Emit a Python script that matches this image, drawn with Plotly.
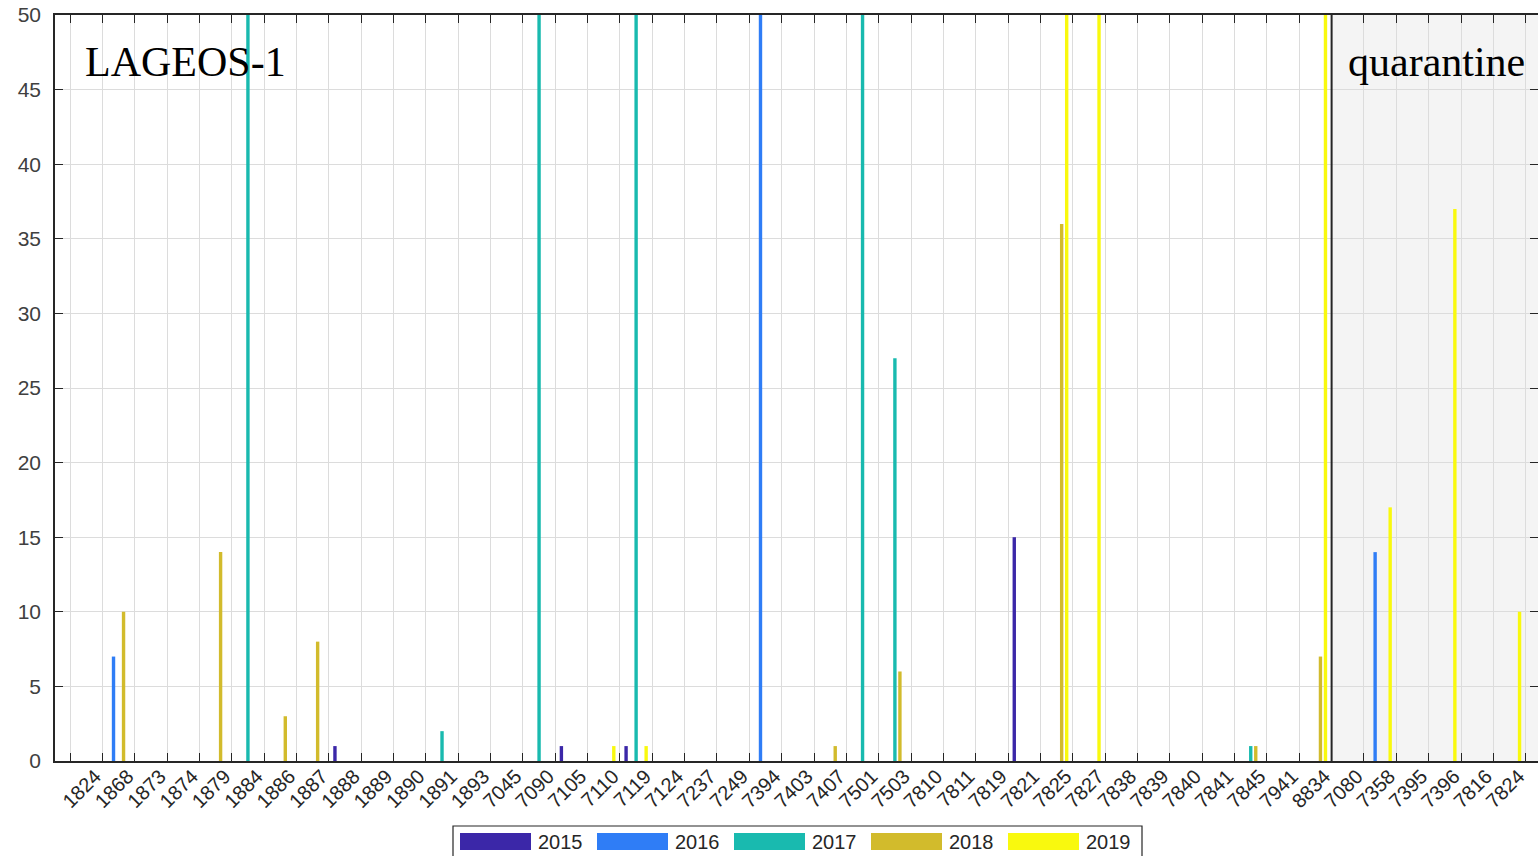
import plotly.graph_objects as go

# ---------------- data ----------------
main_stations = ["1824", "1868", "1873", "1874", "1879", "1884", "1886", "1887", "1888", "1889",
                 "1890", "1891", "1893", "7045", "7090", "7105", "7110", "7119", "7124", "7237",
                 "7249", "7394", "7403", "7407", "7501", "7503", "7810", "7811", "7819", "7821",
                 "7825", "7827", "7838", "7839", "7840", "7841", "7845", "7941", "8834"]
quarantine_stations = ["7080", "7358", "7395", "7396", "7816", "7824"]
stations = main_stations + quarantine_stations

years = ["2015", "2016", "2017", "2018", "2019"]

# counts per station (values above 50 are off the chart; estimated)
v2015 = [0, 0, 0, 0, 0, 0, 0, 0, 1, 0, 0, 0, 0, 0, 0, 1, 0, 1, 0, 0,
         0, 0, 0, 0, 0, 0, 0, 0, 0, 15, 0, 0, 0, 0, 0, 0, 0, 0, 0,
         0, 0, 0, 0, 0, 0]
v2016 = [0, 7, 0, 0, 0, 0, 0, 0, 0, 0, 0, 0, 0, 0, 0, 0, 0, 0, 0, 0,
         0, 62, 0, 0, 0, 0, 0, 0, 0, 0, 0, 0, 0, 0, 0, 0, 0, 0, 0,
         0, 14, 0, 0, 0, 0]
v2017 = [0, 0, 0, 0, 0, 64, 0, 0, 0, 0, 0, 2, 0, 0, 70, 0, 0, 58, 0, 0,
         0, 0, 0, 0, 66, 27, 0, 0, 0, 0, 0, 0, 0, 0, 0, 0, 1, 0, 0,
         0, 0, 0, 0, 0, 0]
v2018 = [0, 10, 0, 0, 14, 0, 3, 8, 0, 0, 0, 0, 0, 0, 0, 0, 0, 0, 0, 0,
         0, 0, 0, 1, 0, 6, 0, 0, 0, 0, 36, 0, 0, 0, 0, 0, 1, 0, 7,
         0, 0, 0, 0, 0, 0]
v2019 = [0, 0, 0, 0, 0, 0, 0, 0, 0, 0, 0, 0, 0, 0, 0, 0, 1, 1, 0, 0,
         0, 0, 0, 0, 0, 0, 0, 0, 0, 0, 80, 57, 0, 0, 0, 0, 0, 0, 90,
         0, 17, 0, 37, 0, 10]
series = [v2015, v2016, v2017, v2018, v2019]
colors = ["#3B27A8", "#2F7DF6", "#19BAAF", "#D2BB2C", "#F9F90E"]

y_ticks = list(range(0, 51, 5))

# ---------------- figure ----------------
W, H = 1538, 856
P_LEFT, P_RIGHT, P_TOP, P_BOTTOM = 55, 1538, 15, 761   # plot area in page pixels
ML, MR, MT, MB = P_LEFT, W - P_RIGHT, P_TOP, H - P_BOTTOM

n = len(stations)
xpos = [i + 0.5 for i in range(n)]
slot = 0.155
bw = 0.105

fig = go.Figure()
for j, (yr, vals, col) in enumerate(zip(years, series, colors)):
    fig.add_trace(go.Bar(
        x=xpos, y=vals, name=yr,
        marker=dict(color=col, line=dict(width=0)),
        width=bw, offset=(j - 2) * slot - bw / 2,
        showlegend=False,
    ))

font_sans = "Liberation Sans, Arial, Helvetica, sans-serif"
font_serif = "Liberation Serif, Times New Roman, serif"
axcol = "#262626"

nq = len(main_stations)
xr = [-0.464, 45.38]

shapes = [
    dict(type="rect", xref="x", yref="paper", x0=nq, x1=n + 2, y0=0, y1=1,
         fillcolor="#f4f4f4", line=dict(width=0), layer="below"),
    dict(type="line", xref="x", yref="paper", x0=nq, x1=nq, y0=0, y1=1,
         line=dict(color=axcol, width=2), layer="above"),
]

def px_x(p):
    return (p - P_LEFT) / (P_RIGHT - P_LEFT)

def px_y(p):
    return (P_BOTTOM - p) / (P_BOTTOM - P_TOP)

shapes.append(dict(type="rect", xref="paper", yref="paper",
                   x0=px_x(453), x1=px_x(1142), y0=px_y(870), y1=px_y(826),
                   line=dict(color=axcol, width=1.2), fillcolor="white"))
annotations = []
leg_x0, leg_step = 460, 137
for j, (yr, col) in enumerate(zip(years, colors)):
    sx = leg_x0 + j * leg_step
    shapes.append(dict(type="rect", xref="paper", yref="paper",
                       x0=px_x(sx), x1=px_x(sx + 71), y0=px_y(850), y1=px_y(833),
                       line=dict(width=0), fillcolor=col))
    annotations.append(dict(xref="paper", yref="paper", x=px_x(sx + 76), y=px_y(842),
                            xanchor="left", yanchor="middle", showarrow=False,
                            text=yr, font=dict(family=font_sans, size=20, color=axcol)))

annotations.append(dict(xref="paper", yref="paper", x=px_x(83), y=px_y(62),
                        xanchor="left", yanchor="middle", showarrow=False,
                        text="LAGEOS-1", font=dict(family=font_serif, size=42, color="black")))
annotations.append(dict(xref="paper", yref="paper", x=px_x(1346), y=px_y(62),
                        xanchor="left", yanchor="middle", showarrow=False,
                        text="quarantine", font=dict(family=font_serif, size=42, color="black")))

fig.update_layout(
    width=W, height=H, autosize=False,
    margin=dict(l=ML, r=MR, t=MT, b=MB, pad=0, autoexpand=False),
    paper_bgcolor="white", plot_bgcolor="white",
    barmode="overlay",
    shapes=shapes, annotations=annotations,
    showlegend=False,
)
fig.update_xaxes(
    range=xr, automargin=False,
    tickmode="array",
    tickvals=list(range(0, n + 1)),
    ticktext=[""] + stations,
    tickangle=-45,
    tickfont=dict(family=font_sans, size=20, color=axcol),
    ticklabelshift=-7, ticklabelstandoff=-6, ticklabeloverflow="allow",
    ticks="inside", ticklen=8, tickwidth=1.2, tickcolor=axcol,
    showline=True, linecolor=axcol, linewidth=1.5, mirror="ticks",
    showgrid=True, gridcolor="#dcdcdc", gridwidth=1,
    zeroline=False,
)
fig.update_yaxes(
    range=[0, 50], automargin=False,
    tickmode="array", tickvals=y_ticks,
    tickfont=dict(family=font_sans, size=21, color="#404040"),
    ticklabelstandoff=8, ticklabeloverflow="allow",
    ticks="inside", ticklen=8, tickwidth=1.2, tickcolor=axcol,
    showline=True, linecolor=axcol, linewidth=1.5, mirror="ticks",
    showgrid=True, gridcolor="#dcdcdc", gridwidth=1,
    zeroline=False,
)

fig.write_html("out.html", config={"displayModeBar": False},
               post_script="document.body.style.margin='0';")
